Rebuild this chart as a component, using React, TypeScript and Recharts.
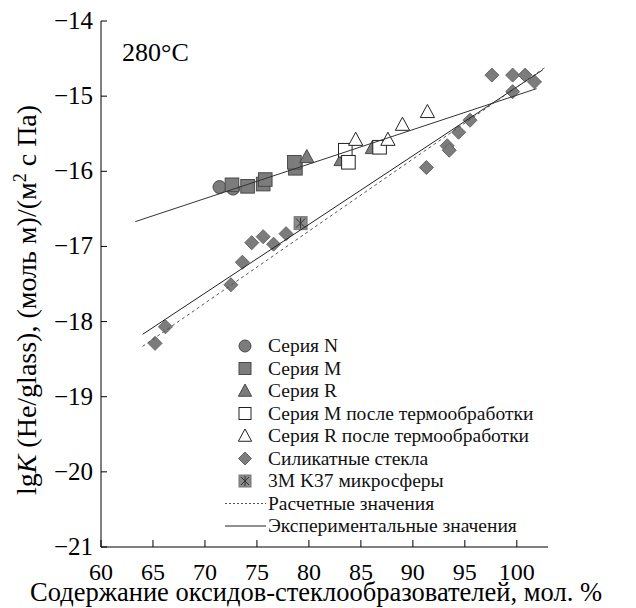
import React from "react";
import { ScatterChart, Scatter, XAxis, YAxis } from "recharts";

// оси
const xTicks = [60, 65, 70, 75, 80, 85, 90, 95, 100];
const yTicks = [-21, -20, -19, -18, -17, -16, -15, -14];

// точки
const seriesN = [
  { x: 71.4, y: -16.21 },
  { x: 72.7, y: -16.23 },
];
const seriesM = [
  { x: 72.6, y: -16.18 },
  { x: 74.1, y: -16.2 },
  { x: 75.6, y: -16.17 },
  { x: 75.8, y: -16.11 },
  { x: 78.7, y: -15.96 },
  { x: 78.6, y: -15.88 },
];
const seriesR = [
  { x: 79.8, y: -15.81 },
  { x: 83.1, y: -15.85 },
  { x: 86.1, y: -15.69 },
];
const seriesMHeat = [
  { x: 83.5, y: -15.72 },
  { x: 83.8, y: -15.88 },
  { x: 86.8, y: -15.68 },
];
const seriesRHeat = [
  { x: 84.5, y: -15.58 },
  { x: 87.6, y: -15.58 },
  { x: 89.0, y: -15.38 },
  { x: 91.4, y: -15.21 },
];
const silicate = [
  { x: 65.2, y: -18.29 },
  { x: 66.2, y: -18.07 },
  { x: 72.5, y: -17.51 },
  { x: 73.6, y: -17.21 },
  { x: 74.5, y: -16.95 },
  { x: 75.6, y: -16.87 },
  { x: 76.6, y: -16.97 },
  { x: 77.8, y: -16.83 },
  { x: 91.3, y: -15.95 },
  { x: 93.3, y: -15.66 },
  { x: 93.5, y: -15.72 },
  { x: 94.4, y: -15.48 },
  { x: 95.5, y: -15.32 },
  { x: 97.6, y: -14.72 },
  { x: 99.6, y: -14.72 },
  { x: 100.8, y: -14.72 },
  { x: 101.7, y: -14.81 },
  { x: 99.6, y: -14.94 },
];
const micro3M = [{ x: 79.2, y: -16.69 }];

// линии
const upperLine = [
  { x: 63.3, y: -16.67 },
  { x: 101.9, y: -14.9 },
];
const lowerExpLine = [
  { x: 64.0, y: -18.17 },
  { x: 102.5, y: -14.65 },
];
const calcLine = [
  { x: 64.0, y: -18.33 },
  { x: 102.7, y: -14.62 },
];

const legendLabels = [
  "Серия N",
  "Серия M",
  "Серия R",
  "Серия M после термообработки",
  "Серия R после термообработки",
  "Силикатные стекла",
  "3M K37 микросферы",
  "Расчетные значения",
  "Экспериментальные значения",
];

const FONT = '"Liberation Serif", "Times New Roman", serif';
const GRAY = "#7c7c7c";
const EDGE = "#4a4a4a";

function Dot({ cx, cy, r = 6.5 }: any) {
  return <circle cx={cx} cy={cy} r={r} fill={GRAY} stroke={EDGE} strokeWidth={1} />;
}

function Square({ cx, cy, s = 6.8, open = false }: any) {
  return (
    <rect
      x={cx - s}
      y={cy - s}
      width={2 * s}
      height={2 * s}
      fill={open ? "#fff" : GRAY}
      stroke={open ? "#222" : EDGE}
      strokeWidth={1}
    />
  );
}

function Tri({ cx, cy, s = 7.5, open = false }: any) {
  const pts = `${cx},${cy - s} ${cx + s * 0.95},${cy + s * 0.75} ${cx - s * 0.95},${cy + s * 0.75}`;
  return <polygon points={pts} fill={open ? "#fff" : GRAY} stroke={open ? "#222" : EDGE} strokeWidth={1} />;
}

function Diamond({ cx, cy, s = 7 }: any) {
  const pts = `${cx},${cy - s} ${cx + s},${cy} ${cx},${cy + s} ${cx - s},${cy}`;
  return <polygon points={pts} fill={GRAY} stroke="#666" strokeWidth={1} />;
}

function Star({ cx, cy, s = 6.5 }: any) {
  return (
    <g>
      <rect x={cx - s} y={cy - s} width={2 * s} height={2 * s} fill="#8a8a8a" stroke="#777" />
      <g stroke="#333" strokeWidth={1}>
        <line x1={cx} y1={cy - s + 1} x2={cx} y2={cy + s - 1} />
        <line x1={cx - s + 2} y1={cy - s + 2} x2={cx + s - 2} y2={cy + s - 2} />
        <line x1={cx + s - 2} y1={cy - s + 2} x2={cx - s + 2} y2={cy + s - 2} />
      </g>
    </g>
  );
}

function XTick({ x, y, payload }: any) {
  return (
    <g>
      <line x1={x} y1={y} x2={x} y2={y - 7} stroke="#000" />
      <text x={x} y={y + 33} textAnchor="middle" fontSize={24} fontFamily={FONT} fill="#000">
        {payload.value}
      </text>
    </g>
  );
}

function YTick({ x, y, payload }: any) {
  return (
    <g>
      <line x1={x} y1={y} x2={x + 6} y2={y} stroke="#000" />
      <text x={x - 8} y={y + 8} textAnchor="end" fontSize={25} fontFamily={FONT} fill="#000">
        {"\u2212" + Math.abs(payload.value)}
      </text>
    </g>
  );
}

function LegendBox() {
  const x0 = 245;
  const y0 = 346;
  const step = 22.5;
  const symbols = [
    (cy: number) => <Dot cx={x0} cy={cy} r={6} />,
    (cy: number) => <Square cx={x0} cy={cy} s={6} />,
    (cy: number) => <Tri cx={x0} cy={cy} s={7} />,
    (cy: number) => <Square cx={x0} cy={cy} s={6} open />,
    (cy: number) => <Tri cx={x0} cy={cy} s={7} open />,
    (cy: number) => <Diamond cx={x0} cy={cy} s={6.5} />,
    (cy: number) => <Star cx={x0} cy={cy} s={6} />,
    (cy: number) => <line x1={225} x2={266} y1={cy} y2={cy} stroke="#555" strokeDasharray="2 2" />,
    (cy: number) => <line x1={225} x2={266} y1={cy} y2={cy} stroke="#222" />,
  ];
  return (
    <g>
      {legendLabels.map((label, i) => {
        const cy = y0 + i * step;
        return (
          <g key={label}>
            {symbols[i](cy)}
            <text x={268} y={cy + 6} fontSize={19.5} fontFamily={FONT} fill="#111">
              {label}
            </text>
          </g>
        );
      })}
    </g>
  );
}

const empty = () => <g />;

export default function App() {
  return (
    <div style={{ position: "absolute", left: 0, top: 0, background: "#fff" }}>
      <ScatterChart width={636} height={608} margin={{ top: 21, right: 88, bottom: 0, left: 0 }}>
        <XAxis
          type="number"
          dataKey="x"
          domain={[60, 103]}
          ticks={xTicks}
          height={61}
          tickSize={0}
          tickMargin={0}
          tick={<XTick />}
          axisLine={{ stroke: "#000" }}
          allowDataOverflow
        />
        <YAxis
          type="number"
          dataKey="y"
          domain={[-21, -14]}
          ticks={yTicks}
          width={101}
          tickSize={0}
          tickMargin={0}
          tick={<YTick />}
          axisLine={{ stroke: "#000" }}
          allowDataOverflow
        />
        <Scatter data={seriesN} shape={(p: any) => <Dot cx={p.cx} cy={p.cy} />} isAnimationActive={false} />
        <Scatter data={seriesM} shape={(p: any) => <Square cx={p.cx} cy={p.cy} />} isAnimationActive={false} />
        <Scatter data={seriesR} shape={(p: any) => <Tri cx={p.cx} cy={p.cy} />} isAnimationActive={false} />
        <Scatter data={seriesMHeat} shape={(p: any) => <Square cx={p.cx} cy={p.cy} open />} isAnimationActive={false} />
        <Scatter data={seriesRHeat} shape={(p: any) => <Tri cx={p.cx} cy={p.cy} open />} isAnimationActive={false} />
        <Scatter data={silicate} shape={(p: any) => <Diamond cx={p.cx} cy={p.cy} />} isAnimationActive={false} />
        <Scatter data={micro3M} shape={(p: any) => <Star cx={p.cx} cy={p.cy} />} isAnimationActive={false} />
        <Scatter data={upperLine} line={{ stroke: "#333", strokeWidth: 1 }} shape={empty} isAnimationActive={false} />
        <Scatter data={lowerExpLine} line={{ stroke: "#222", strokeWidth: 1 }} shape={empty} isAnimationActive={false} />
        <Scatter
          data={calcLine}
          line={{ stroke: "#555", strokeWidth: 1, strokeDasharray: "3 3" }}
          shape={empty}
          isAnimationActive={false}
        />
        <text x={122} y={61} fontSize={26} fontFamily={FONT} fill="#000">
          280°C
        </text>
        <text
          x={0}
          y={0}
          transform="translate(36 300) rotate(-90)"
          textAnchor="middle"
          fontSize={28}
          fontFamily={FONT}
          fill="#000"
        >
          lg<tspan fontStyle="italic">K</tspan> (He/glass), (моль м)/(м
          <tspan dy={-10} fontSize={18}>2</tspan>
          <tspan dy={10}> с Па)</tspan>
        </text>
        <text x={316} y={601} textAnchor="middle" fontSize={26.5} fontFamily={FONT} fill="#000">
          Содержание оксидов-стеклообразователей, мол. %
        </text>
        <LegendBox />
      </ScatterChart>
    </div>
  );
}
